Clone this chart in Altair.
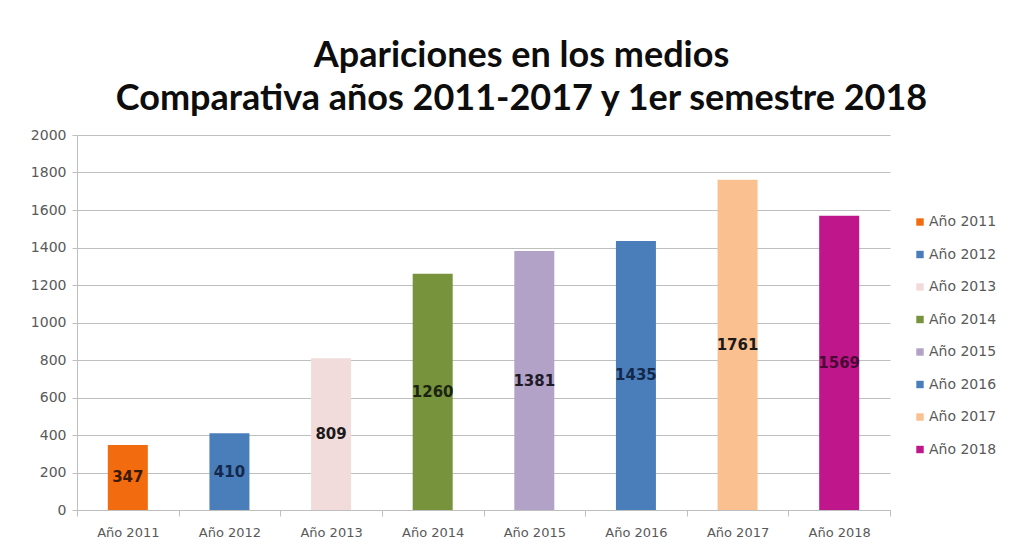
import altair as alt
import pandas as pd

years = ["Año 2011", "Año 2012", "Año 2013", "Año 2014", "Año 2015", "Año 2016", "Año 2017", "Año 2018"]
values = [347, 410, 809, 1260, 1381, 1435, 1761, 1569]
bar_colors = ["#F26B0F", "#4A7EBB", "#F2DCDB", "#77933C", "#B3A2C7", "#4A7EBB", "#FAC090", "#C0168C"]
label_colors = ["#3A1A05", "#13284A", "#1A1A1A", "#1A2410", "#1E1A28", "#13284A", "#1A1A1A", "#4A0A35"]
y_ticks = [0, 200, 400, 600, 800, 1000, 1200, 1400, 1600, 1800, 2000]
title_lines = ["Apariciones en los medios", "Comparativa años 2011-2017 y  1er semestre 2018"]

df = pd.DataFrame({"year": years, "value": values})

LABEL_FONT = "DejaVu Sans"
GRAY = "#595959"
LINE = "#BFBFBF"

base = alt.Chart(df)

x_scale = alt.Scale(paddingInner=0, paddingOuter=0)
y_scale = alt.Scale(domain=[0, 2000], nice=False)

x_axis = alt.Axis(
    title=None, labelAngle=0, tickBand="extent", domainColor=LINE, tickColor=LINE,
    labelColor=GRAY, labelFontSize=13, labelFont=LABEL_FONT, labelPadding=10, tickSize=6,
)
y_axis = alt.Axis(
    title=None, values=y_ticks, format="d", labelOverlap=False, gridColor=LINE,
    gridWidth=1, domainColor=LINE, tickColor=LINE, tickSize=5, labelColor=GRAY,
    labelFontSize=14, labelFont=LABEL_FONT, labelPadding=6,
)

bars = base.mark_bar(size=40).encode(
    x=alt.X("year:N", sort=years, scale=x_scale, axis=x_axis),
    y=alt.Y("value:Q", scale=y_scale, axis=y_axis),
    color=alt.Color(
        "year:N",
        sort=years,
        scale=alt.Scale(domain=years, range=bar_colors),
        legend=alt.Legend(
            title=None, orient="none", legendX=836, legendY=80, symbolType="square",
            symbolSize=55, symbolStrokeWidth=0, labelFontSize=14, labelFont=LABEL_FONT,
            labelColor=GRAY, rowPadding=18.5, labelOffset=2,
        ),
    ),
)

labels = base.transform_calculate(mid="datum.value / 2").mark_text(
    fontWeight="bold", fontSize=15, font="DejaVu Sans"
).encode(
    x=alt.X("year:N", sort=years, scale=x_scale, axis=x_axis),
    y=alt.Y("mid:Q", scale=y_scale, axis=y_axis),
    text=alt.Text("value:Q"),
    color=alt.Color("year:N", scale=alt.Scale(domain=years, range=label_colors), legend=None),
)

chart = (
    alt.layer(bars, labels)
    .resolve_scale(color="independent")
    .properties(
        width=813,
        height=375,
        autosize=alt.AutoSizeParams(type="none"),
        padding={"left": 69, "top": 127, "right": 121, "bottom": 30},
        title=alt.TitleParams(
            text=title_lines, fontSize=36, font="Lato", fontWeight="bold", color="#0D0D0D",
            lineHeight=43, anchor="middle", dx=38, offset=10,
        ),
    )
    .configure_view(stroke=None)
)

chart.save("out.html", embed_options={"renderer": "svg", "actions": False})
